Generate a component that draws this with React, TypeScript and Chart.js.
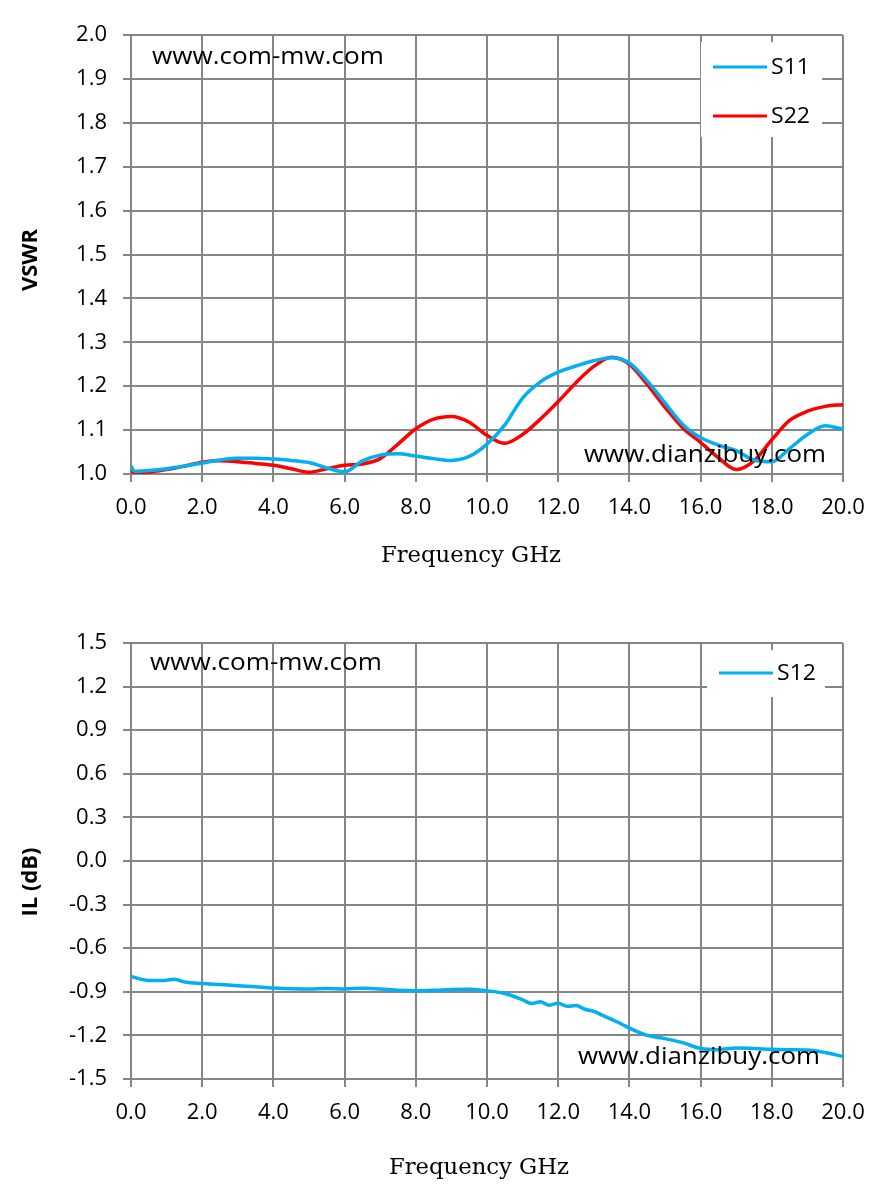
import { useEffect, useRef } from 'react';
import { Chart, registerables } from 'chart.js';

Chart.register(...registerables);

// ---- data ----
const freqTicks = [0, 2, 4, 6, 8, 10, 12, 14, 16, 18, 20];
const vswrTicks = [1.0, 1.1, 1.2, 1.3, 1.4, 1.5, 1.6, 1.7, 1.8, 1.9, 2.0];
const ilTicks = [-1.5, -1.2, -0.9, -0.6, -0.3, 0.0, 0.3, 0.6, 0.9, 1.2, 1.5];

const vswrFreq = [
  0, 0.1, 0.5, 1.0, 1.5, 2.0, 2.5, 3.0, 3.5, 4.0, 4.5, 5.0, 5.5, 6.0, 6.5, 7.0, 7.5, 8.0, 8.5, 9.0, 9.5,
  10.0, 10.5, 11.0, 11.5, 12.0, 12.5, 13.0, 13.5, 14.0, 14.5, 15.0, 15.5, 16.0, 16.5, 17.0, 17.5, 18.0,
  18.5, 19.0, 19.5, 20.0,
];
const s11 = [
  1.018, 1.006, 1.008, 1.012, 1.018, 1.025, 1.032, 1.036, 1.036, 1.034, 1.031, 1.026, 1.014, 1.005, 1.030,
  1.043, 1.046, 1.041, 1.035, 1.031, 1.040, 1.068, 1.112, 1.173, 1.210, 1.232, 1.246, 1.258, 1.265, 1.253,
  1.212, 1.162, 1.113, 1.083, 1.066, 1.053, 1.032, 1.028, 1.058, 1.090, 1.110, 1.102,
];
const s22 = [
  1.012, 1.000, 1.004, 1.010, 1.018, 1.027, 1.030, 1.028, 1.024, 1.020, 1.012, 1.004, 1.012, 1.020, 1.023,
  1.035, 1.068, 1.103, 1.125, 1.131, 1.118, 1.088, 1.070, 1.090, 1.125, 1.165, 1.208, 1.245, 1.266, 1.250,
  1.204, 1.152, 1.105, 1.072, 1.037, 1.010, 1.030, 1.078, 1.122, 1.143, 1.154, 1.158,
];

const ilFreq = [
  0, 0.5, 1.0, 1.2, 1.5, 2.0, 2.5, 3.0, 3.5, 4.0, 4.5, 5.0, 5.5, 6.0, 6.5, 7.0, 7.5, 8.0, 8.5, 9.0, 9.5,
  10.0, 10.5, 11.0, 11.25, 11.5, 11.75, 12.0, 12.25, 12.5, 12.75, 13.0, 13.25, 13.5, 13.75, 14.0, 14.5,
  15.0, 15.5, 16.0, 16.5, 17.0, 17.5, 18.0, 18.5, 19.0, 19.5, 20.0,
];
const s12 = [
  -0.795, -0.822, -0.820, -0.814, -0.832, -0.843, -0.850, -0.858, -0.866, -0.874, -0.879, -0.880, -0.877,
  -0.880, -0.876, -0.880, -0.890, -0.893, -0.890, -0.884, -0.882, -0.893, -0.912, -0.955, -0.980, -0.968,
  -0.992, -0.978, -1.000, -0.995, -1.020, -1.035, -1.062, -1.090, -1.118, -1.150, -1.200, -1.222, -1.250,
  -1.290, -1.298, -1.287, -1.290, -1.296, -1.298, -1.300, -1.318, -1.345,
];

const GRID = '#868686';
const BLUE = '#00B0F0';
const RED = '#FF0000';
const TICK_FONT = { family: '"Open Sans", sans-serif', size: 22 };

type Series = { label: string; color: string; freq: number[]; values: number[] };
type Panel = {
  height: number;
  top: number;
  bottom: number;
  min: number;
  max: number;
  yTicks: number[];
  yTitle: { text: string; x: number; y: number };
  xTitle: { x: number; y: number };
  legendBox: [number, number, number, number];
  legendRows: number[];
  marks: { text: string; x: number; y: number; w: number }[];
  series: Series[];
};

// draw text squeezed or stretched to a given width
function fitText(ctx: CanvasRenderingContext2D, text: string, x: number, y: number, w: number) {
  const m = ctx.measureText(text).width;
  ctx.save();
  ctx.translate(x, y);
  ctx.scale(w / m, 1);
  ctx.fillText(text, 0, 0);
  ctx.restore();
}

function VnaChart({ panel }: { panel: Panel }) {
  const canvasRef = useRef<HTMLCanvasElement>(null);
  const chartRef = useRef<Chart | null>(null);

  useEffect(() => {
    if (!canvasRef.current) return;
    if (chartRef.current) chartRef.current.destroy();

    const overlay = {
      id: 'overlay',
      afterDraw(chart: Chart) {
        const ctx = chart.ctx;
        ctx.save();
        // legend box
        const [bx, by, bw, bh] = panel.legendBox;
        ctx.fillStyle = '#fff';
        ctx.fillRect(bx, by, bw, bh);
        panel.series.forEach((s, i) => {
          const ly = panel.legendRows[i];
          ctx.strokeStyle = s.color;
          ctx.lineWidth = 3;
          ctx.beginPath();
          ctx.moveTo(bx + 12, ly);
          ctx.lineTo(bx + 66, ly);
          ctx.stroke();
          ctx.fillStyle = '#000';
          ctx.font = '22px "Open Sans", sans-serif';
          ctx.textAlign = 'left';
          ctx.textBaseline = 'middle';
          fitText(ctx, s.label, bx + 70, ly + 1, 39);
        });
        // watermarks
        ctx.fillStyle = '#000';
        ctx.font = '23px "Open Sans", sans-serif';
        ctx.textAlign = 'left';
        ctx.textBaseline = 'middle';
        panel.marks.forEach((m) => fitText(ctx, m.text, m.x, m.y, m.w));
        // x title
        ctx.font = '23px "DejaVu Serif", serif';
        ctx.textAlign = 'left';
        fitText(ctx, 'Frequency GHz', panel.xTitle.x, panel.xTitle.y, 180);
        // y title
        ctx.translate(panel.yTitle.x, panel.yTitle.y);
        ctx.rotate(-Math.PI / 2);
        ctx.font = 'bold 22px "Open Sans", sans-serif';
        ctx.textAlign = 'center';
        ctx.fillText(panel.yTitle.text, 0, 0);
        ctx.restore();
      },
    };

    chartRef.current = new Chart(canvasRef.current, {
      type: 'line',
      data: {
        datasets: panel.series.map((s) => ({
          label: s.label,
          data: s.freq.map((f, i) => ({ x: f, y: s.values[i] })),
          borderColor: s.color,
          backgroundColor: s.color,
          borderWidth: 3.5,
          pointRadius: 0,
          cubicInterpolationMode: 'monotone' as const,
          fill: false,
        })),
      },
      options: {
        animation: false,
        responsive: false,
        layout: { padding: { left: 0, top: panel.top, right: 40, bottom: 0 } },
        plugins: { legend: { display: false }, tooltip: { enabled: false } },
        scales: {
          x: {
            type: 'linear',
            min: 0,
            max: 20,
            afterBuildTicks: (scale: any) => {
              scale.ticks = freqTicks.map((v) => ({ value: v }));
            },
            afterFit: (scale: any) => {
              scale.height = panel.height - panel.bottom;
            },
            grid: { color: GRID, lineWidth: 2, tickLength: 8 },
            border: { color: GRID, width: 2 },
            ticks: {
              color: '#000',
              font: TICK_FONT,
              padding: 13,
              maxRotation: 0,
              autoSkip: false,
              callback: (v: any) => Number(v).toFixed(1),
            },
          },
          y: {
            type: 'linear',
            min: panel.min,
            max: panel.max,
            afterBuildTicks: (scale: any) => {
              scale.ticks = panel.yTicks.map((v) => ({ value: v }));
            },
            afterFit: (scale: any) => {
              scale.width = 131;
            },
            grid: { color: GRID, lineWidth: 2, tickLength: 8 },
            border: { color: GRID, width: 2 },
            ticks: {
              color: '#000',
              font: TICK_FONT,
              padding: 16,
              autoSkip: false,
              callback: (v: any) => Number(v).toFixed(1),
            },
          },
        },
      },
      plugins: [overlay],
    });

    return () => {
      if (chartRef.current) {
        chartRef.current.destroy();
        chartRef.current = null;
      }
    };
  }, [panel]);

  return <canvas ref={canvasRef} width={883} height={panel.height} style={{ display: 'block' }} />;
}

const topPanel: Panel = {
  height: 600,
  top: 35,
  bottom: 474,
  min: 1.0,
  max: 2.0,
  yTicks: vswrTicks,
  yTitle: { text: 'VSWR', x: 31, y: 260 },
  xTitle: { x: 381, y: 556 },
  legendBox: [701, 42, 121, 95],
  legendRows: [67, 116],
  marks: [
    { text: 'www.com-mw.com', x: 152, y: 57, w: 232 },
    { text: 'www.dianzibuy.com', x: 584, y: 455, w: 242 },
  ],
  series: [
    { label: 'S11', color: BLUE, freq: vswrFreq, values: s11 },
    { label: 'S22', color: RED, freq: vswrFreq, values: s22 },
  ],
};

const bottomPanel: Panel = {
  height: 603,
  top: 43,
  bottom: 479,
  min: -1.5,
  max: 1.5,
  yTicks: ilTicks,
  yTitle: { text: 'IL (dB)', x: 31, y: 282 },
  xTitle: { x: 389, y: 568 },
  legendBox: [707, 50, 118, 47],
  legendRows: [73],
  marks: [
    { text: 'www.com-mw.com', x: 150, y: 63, w: 232 },
    { text: 'www.dianzibuy.com', x: 578, y: 457, w: 242 },
  ],
  series: [{ label: 'S12', color: BLUE, freq: ilFreq, values: s12 }],
};

export default function App() {
  return (
    <div style={{ position: 'absolute', left: 0, top: 0, width: 883, height: 1203, background: '#fff' }}>
      <VnaChart panel={topPanel} />
      <VnaChart panel={bottomPanel} />
    </div>
  );
}
